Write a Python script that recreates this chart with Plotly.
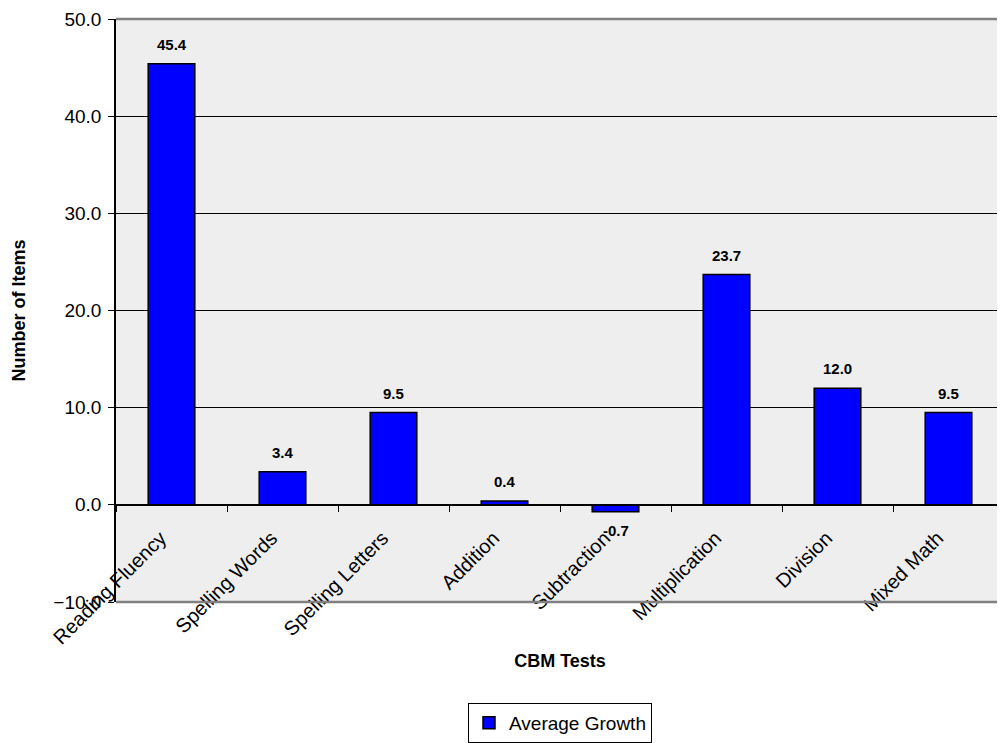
import plotly.graph_objects as go

tests = ["Reading Fluency", "Spelling Words", "Spelling Letters", "Addition",
         "Subtraction", "Multiplication", "Division", "Mixed Math"]
growth = [45.4, 3.4, 9.5, 0.4, -0.7, 23.7, 12.0, 9.5]

fig = go.Figure()
fig.add_trace(go.Bar(
    x=tests, y=growth, name="Average Growth",
    marker=dict(color="#0000ff", line=dict(color="black", width=1.5)),
))

# data labels, above bars (below for negatives)
for t, v in zip(tests, growth):
    fig.add_annotation(
        x=t, y=v, text="<b>%.1f</b>" % v, showarrow=False,
        yanchor="bottom" if v >= 0 else "top",
        yshift=9 if v >= 0 else -8,
        font=dict(size=15, color="black"),
    )

# page body has an 8px margin, so the figure is a bit smaller than the window
fig.update_layout(
    width=997, height=735,
    margin=dict(l=108, r=1, t=11, b=140),
    paper_bgcolor="white", plot_bgcolor="#eeeeee",
    font=dict(family="Liberation Sans, Arial", size=19, color="black"),
    bargap=0.58,
    showlegend=True,
    legend=dict(x=0.5, xanchor="center", y=-0.171, yanchor="top",
                orientation="h", bordercolor="black", borderwidth=1,
                bgcolor="white", font=dict(size=19)),
    shapes=[
        dict(type="line", xref="paper", yref="paper", x0=0, x1=1, y0=1, y1=1,
             line=dict(color="#808080", width=2.5), layer="above"),
        dict(type="line", xref="paper", yref="paper", x0=0, x1=1, y0=0, y1=0,
             line=dict(color="#808080", width=2.5), layer="above"),
    ],
)
fig.update_yaxes(
    range=[-10, 50], dtick=10, tickformat=".1f",
    showgrid=True, gridcolor="black", gridwidth=1,
    zeroline=False, showline=True, linecolor="black", linewidth=1.5,
    ticks="outside", ticklen=6, tickcolor="black", ticklabelstandoff=3,
    tickfont=dict(size=19),
    title=dict(text="<b>Number of Items</b>", font=dict(size=18), standoff=23),
    automargin=False,
)
fig.update_xaxes(
    anchor="free", position=10 / 60,
    showline=True, linecolor="black", linewidth=1.5,
    ticks="outside", tickson="boundaries", ticklen=6, tickcolor="black",
    tickangle=-45, ticklabelstandoff=13, ticklabelshift=-11,
    tickfont=dict(size=20), showgrid=False, zeroline=False,
    title=dict(text="<b>CBM Tests</b>", font=dict(size=18), standoff=6),
    automargin=False,
)

fig.write_html("out.html")
